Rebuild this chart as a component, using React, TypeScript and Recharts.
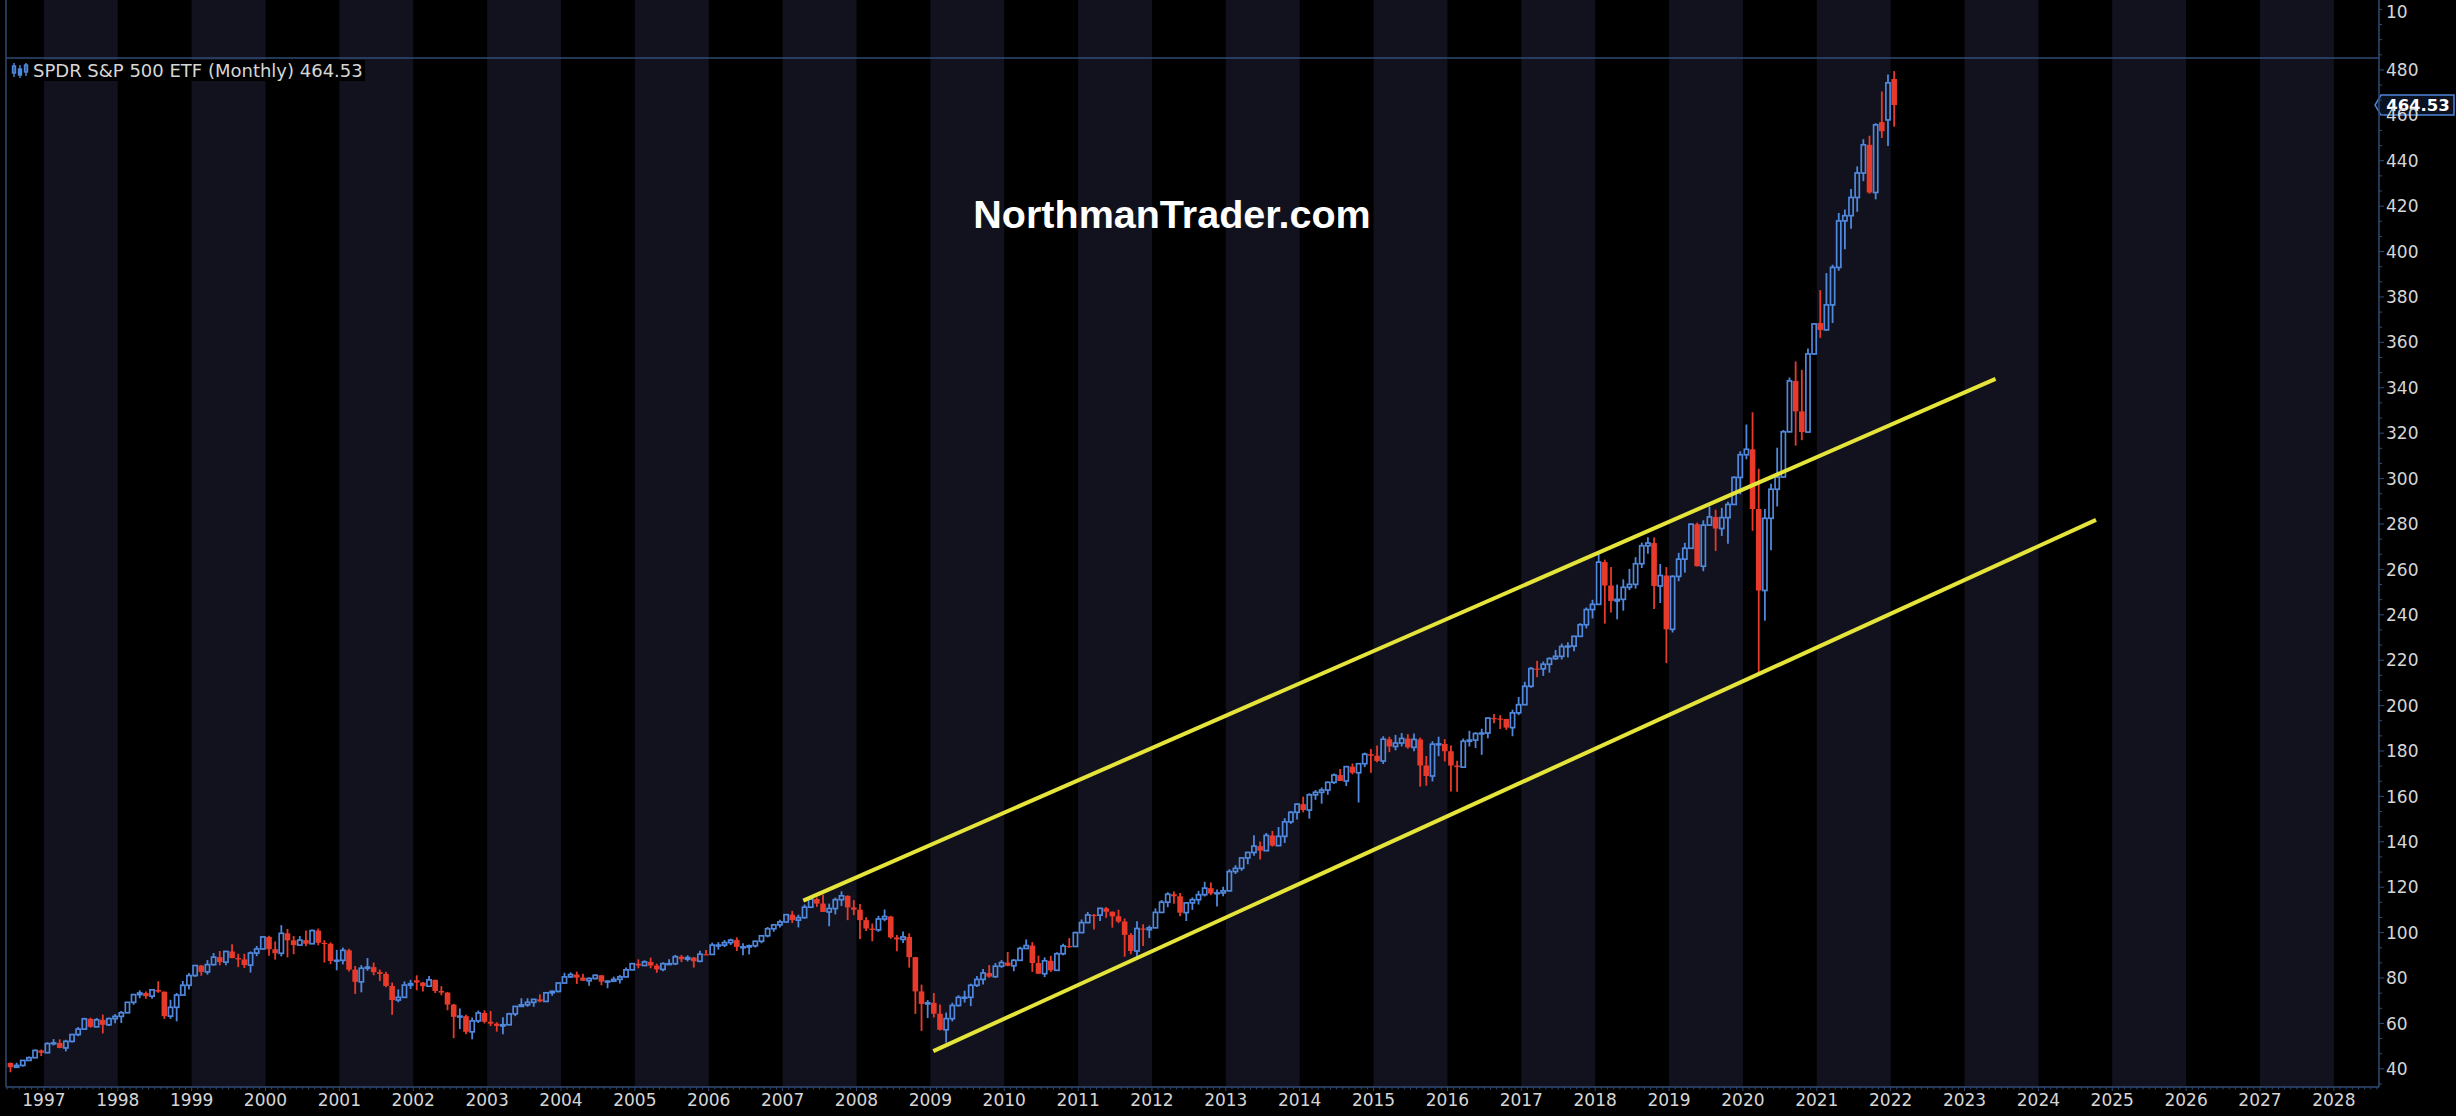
import React from 'react';
import { ComposedChart, Bar, XAxis, YAxis, ReferenceArea, ReferenceLine } from 'recharts';

// ---- Data (monthly SPY, dividend-adjusted) ----
const firstYear = 1996;
const firstMonth = 7; // July 1996

const opens = [
  /*1996*/ 42.6, 40.7, 41.5, 43.7, 44.9, 48.1,
  /*1997*/ 47.1, 51.1, 51.4, 49.2, 52.1, 55.1, 57.5, 62.0, 58.5, 61.6, 59.4, 62.1,
  /*1998*/ 63.1, 64.7, 69.3, 72.7, 73.4, 72.0, 74.8, 74.0, 63.2, 67.1, 72.5, 76.8,
  /*1999*/ 81.1, 85.5, 82.7, 85.9, 89.2, 87.0, 91.7, 88.8, 88.2, 85.7, 91.0, 92.8,
  /*2000*/ 98.1, 92.7, 90.9, 99.7, 96.6, 94.5, 96.7, 95.1, 100.9, 95.5, 95.1, 87.5,
  /*2001*/ 87.8, 92.2, 83.7, 78.3, 84.3, 84.8, 82.6, 81.8, 76.5, 70.3, 71.5, 76.9,
  /*2002*/ 79.0, 78.0, 76.4, 79.2, 74.3, 73.6, 68.3, 62.9, 63.2, 56.3, 61.1, 64.6,
  /*2003*/ 60.7, 59.9, 58.9, 59.4, 64.2, 67.5, 68.2, 69.3, 70.6, 69.7, 73.5, 74.1,
  /*2004*/ 77.8, 80.5, 81.5, 80.2, 78.8, 79.8, 81.2, 78.4, 78.6, 79.4, 80.5, 83.6,
  /*2005*/ 86.3, 85.5, 87.1, 85.5, 83.8, 86.3, 86.3, 89.4, 88.3, 89.0, 87.4, 90.5,
  /*2006*/ 90.4, 94.5, 94.5, 95.6, 96.7, 93.7, 93.7, 94.2, 96.2, 98.6, 101.7, 103.4,
  /*2007*/ 104.7, 107.9, 105.5, 106.6, 111.2, 114.8, 112.8, 109.1, 110.6, 114.5, 116.2, 111.1,
  /*2008*/ 110.1, 105.5, 101.8, 101.2, 106.0, 107.1, 97.9, 97.0, 98.1, 89.2, 74.1, 68.6,
  /*2009*/ 69.1, 64.3, 57.2, 62.1, 67.9, 71.5, 71.5, 76.8, 79.4, 82.2, 80.6, 85.2,
  /*2010*/ 86.8, 85.4, 87.8, 93.0, 94.3, 86.6, 81.9, 87.6, 83.4, 90.7, 94.1, 93.9,
  /*2011*/ 100.0, 104.4, 107.8, 107.7, 110.7, 109.2, 107.2, 104.9, 99.0, 91.9, 101.8, 101.3,
  /*2012*/ 102.1, 108.9, 113.4, 116.9, 116.0, 108.8, 113.1, 114.5, 116.7, 119.6, 117.2, 117.5,
  /*2013*/ 118.4, 126.9, 128.3, 132.9, 135.3, 138.1, 136.1, 142.8, 138.3, 142.4, 148.8, 153.0,
  /*2014*/ 156.6, 154.0, 160.7, 161.8, 162.8, 166.2, 169.4, 166.8, 173.1, 170.4, 174.4, 178.6,
  /*2015*/ 177.9, 175.6, 185.2, 182.0, 183.5, 185.5, 181.6, 185.1, 173.6, 169.0, 183.0, 183.1,
  /*2016*/ 179.9, 173.6, 172.9, 184.3, 184.8, 187.7, 187.9, 194.5, 194.3, 194.1, 190.3, 196.8,
  /*2017*/ 200.4, 208.5, 216.3, 216.2, 218.2, 220.7, 221.7, 226.0, 226.2, 230.5, 235.6, 242.3,
  /*2018*/ 244.6, 263.2, 252.9, 246.1, 246.8, 252.1, 253.4, 262.5, 270.4, 271.6, 252.7, 257.3,
  /*2019*/ 233.6, 256.9, 264.5, 269.3, 279.9, 261.4, 279.5, 283.1, 278.0, 282.8, 288.6, 300.5,
  /*2020*/ 310.5, 312.9, 286.6, 250.7, 282.5, 295.3, 300.7, 320.6, 343.0, 329.6, 320.5, 354.9,
  /*2021*/ 368.5, 365.5, 376.5, 393.0, 413.5, 415.8, 423.8, 434.6, 447.0, 426.0, 457.0, 458.0,
  /*2022*/ 476.0,
];
const highs = [
  /*1996*/ 42.8, 42.7, 43.9, 45.4, 48.5, 48.5,
  /*1997*/ 51.7, 53.1, 53.0, 52.8, 55.4, 58.4, 62.5, 62.5, 62.4, 63.9, 62.6, 64.1,
  /*1998*/ 65.5, 69.3, 73.0, 74.6, 74.1, 75.1, 78.6, 74.0, 70.4, 73.4, 78.7, 82.2,
  /*1999*/ 85.7, 85.8, 87.9, 91.0, 91.9, 91.9, 94.9, 90.7, 90.7, 91.7, 94.1, 98.4,
  /*2000*/ 98.6, 96.1, 103.3, 101.6, 98.5, 98.5, 100.9, 101.4, 101.8, 96.7, 95.7, 92.4,
  /*2001*/ 93.4, 92.9, 85.3, 85.7, 88.8, 86.8, 83.7, 82.8, 78.0, 75.0, 78.5, 79.2,
  /*2002*/ 81.2, 78.2, 80.9, 79.3, 76.4, 73.9, 68.6, 66.6, 63.8, 62.6, 65.7, 65.8,
  /*2003*/ 65.5, 60.5, 62.7, 64.7, 67.6, 71.1, 71.1, 70.8, 72.8, 73.8, 74.5, 77.9,
  /*2004*/ 82.3, 82.5, 82.8, 81.9, 80.3, 81.6, 81.3, 79.0, 80.6, 81.3, 84.6, 86.7,
  /*2005*/ 88.2, 87.8, 89.0, 86.3, 86.9, 88.3, 90.2, 90.2, 90.0, 89.3, 92.0, 92.4,
  /*2006*/ 95.6, 95.8, 96.7, 97.3, 97.9, 95.3, 94.7, 96.4, 98.9, 102.5, 103.9, 105.7,
  /*2007*/ 108.1, 109.6, 107.9, 112.4, 115.2, 115.5, 116.7, 112.8, 115.4, 118.2, 116.4, 114.3,
  /*2008*/ 112.6, 106.8, 104.0, 107.4, 110.2, 107.4, 98.9, 100.5, 99.7, 89.3, 77.1, 70.3,
  /*2009*/ 73.4, 68.3, 64.8, 69.1, 72.4, 74.4, 77.5, 80.9, 84.0, 85.7, 86.6, 87.9,
  /*2010*/ 91.5, 88.4, 93.8, 97.0, 95.8, 89.9, 89.1, 89.8, 91.3, 95.1, 97.6, 100.4,
  /*2011*/ 105.8, 109.1, 108.2, 110.8, 111.3, 109.3, 110.1, 106.2, 99.8, 105.0, 103.7, 103.1,
  /*2012*/ 110.7, 114.4, 117.8, 118.1, 117.5, 113.2, 115.5, 118.4, 122.4, 122.1, 119.0, 120.2,
  /*2013*/ 127.9, 129.7, 133.0, 135.6, 142.9, 140.1, 143.9, 144.8, 146.5, 150.4, 153.6, 156.9,
  /*2014*/ 159.9, 161.4, 162.8, 163.9, 166.5, 170.1, 172.1, 173.2, 174.5, 174.6, 179.3, 180.9,
  /*2015*/ 182.4, 186.5, 186.3, 187.1, 187.9, 187.4, 187.7, 185.9, 177.8, 184.3, 186.3, 185.2,
  /*2016*/ 182.4, 175.7, 185.5, 188.9, 188.3, 189.8, 194.9, 196.3, 195.8, 194.2, 198.2, 203.8,
  /*2017*/ 210.5, 217.0, 219.7, 219.4, 221.3, 224.5, 227.3, 227.9, 230.8, 236.3, 243.2, 246.6,
  /*2018*/ 267.8, 264.3, 261.1, 253.3, 255.6, 260.2, 265.4, 271.8, 274.1, 274.0, 262.4, 261.0,
  /*2019*/ 257.4, 267.3, 271.7, 280.2, 280.6, 281.6, 287.7, 286.3, 287.1, 289.8, 301.0, 312.0,
  /*2020*/ 323.8, 329.2, 304.3, 286.6, 297.7, 313.6, 321.4, 344.5, 351.6, 347.9, 357.3, 368.5,
  /*2021*/ 383.0, 390.5, 394.2, 417.0, 418.5, 427.5, 437.5, 449.5, 451.0, 456.5, 470.5, 478.0,
  /*2022*/ 479.5,
];
const lows = [
  /*1996*/ 38.5, 40.7, 41.0, 43.6, 44.8, 45.6,
  /*1997*/ 46.9, 50.3, 49.1, 47.7, 51.6, 54.4, 57.5, 58.1, 58.4, 55.6, 58.9, 60.1,
  /*1998*/ 60.2, 64.6, 68.2, 71.1, 70.9, 70.9, 73.5, 62.0, 62.0, 60.9, 72.5, 75.0,
  /*1999*/ 80.5, 81.0, 81.5, 85.5, 85.6, 85.6, 88.7, 84.8, 84.4, 82.4, 89.6, 92.7,
  /*2000*/ 89.8, 88.1, 89.5, 89.1, 90.5, 94.5, 94.0, 95.1, 94.4, 86.8, 86.1, 83.4,
  /*2001*/ 86.0, 82.9, 73.0, 73.7, 83.2, 81.2, 78.7, 75.9, 63.8, 69.3, 71.2, 75.2,
  /*2002*/ 74.6, 74.1, 76.2, 73.4, 72.4, 65.8, 53.5, 57.5, 55.2, 53.0, 60.2, 60.0,
  /*2003*/ 58.8, 56.4, 55.2, 59.3, 63.2, 67.3, 67.3, 67.3, 69.3, 69.6, 72.2, 73.7,
  /*2004*/ 77.6, 80.1, 77.4, 78.8, 76.6, 79.3, 76.8, 75.5, 78.4, 77.6, 80.3, 83.5,
  /*2005*/ 84.3, 85.4, 84.3, 82.3, 83.0, 86.0, 85.7, 87.0, 87.3, 84.6, 87.0, 90.3,
  /*2006*/ 90.2, 92.5, 93.6, 94.5, 91.9, 90.0, 90.4, 93.4, 95.3, 97.9, 100.4, 102.3,
  /*2007*/ 104.5, 104.2, 102.3, 106.2, 110.8, 111.3, 109.1, 102.8, 108.0, 111.7, 105.5, 107.7,
  /*2008*/ 97.2, 100.7, 96.2, 100.4, 105.0, 97.3, 91.8, 95.4, 84.6, 64.2, 56.7, 62.4,
  /*2009*/ 62.6, 56.9, 51.5, 60.9, 67.4, 69.2, 67.6, 76.1, 77.2, 80.1, 80.1, 84.5,
  /*2010*/ 85.2, 83.0, 87.6, 92.8, 82.7, 81.8, 80.4, 82.7, 83.3, 90.0, 93.3, 93.8,
  /*2011*/ 99.8, 104.2, 101.4, 105.1, 106.5, 102.2, 104.2, 89.4, 90.5, 88.9, 94.1, 97.6,
  /*2012*/ 102.0, 108.8, 111.2, 112.7, 107.2, 105.1, 110.0, 112.4, 115.9, 116.5, 111.5, 116.0,
  /*2013*/ 118.2, 125.8, 127.2, 130.1, 133.9, 132.2, 135.9, 137.9, 138.2, 139.5, 147.9, 149.8,
  /*2014*/ 153.0, 150.2, 158.5, 156.8, 160.7, 165.5, 166.8, 164.6, 169.7, 157.3, 172.9, 170.4,
  /*2015*/ 175.0, 174.3, 179.5, 180.3, 182.0, 181.0, 179.9, 164.3, 164.7, 166.6, 177.7, 175.4,
  /*2016*/ 162.2, 162.0, 172.7, 182.0, 181.3, 178.3, 185.6, 192.2, 189.7, 189.3, 186.5, 195.8,
  /*2017*/ 200.2, 207.9, 212.5, 213.1, 214.5, 220.1, 220.3, 221.2, 223.9, 230.4, 234.0, 238.4,
  /*2018*/ 244.4, 236.1, 241.0, 238.0, 241.8, 250.9, 251.5, 260.6, 266.9, 242.6, 245.2, 218.7,
  /*2019*/ 232.2, 254.8, 258.6, 269.1, 261.3, 259.2, 279.3, 268.1, 274.7, 271.3, 288.4, 293.0,
  /*2020*/ 308.5, 277.0, 214.0, 237.4, 268.4, 287.7, 300.5, 320.3, 314.5, 316.9, 320.3, 354.5,
  /*2021*/ 362.0, 365.2, 368.5, 391.5, 401.0, 410.0, 417.5, 431.0, 425.5, 423.0, 450.0, 446.5,
  /*2022*/ 455.0,
];
const closes = [
  /*1996*/ 40.7, 41.5, 43.7, 44.9, 48.1, 47.1,
  /*1997*/ 51.1, 51.4, 49.2, 52.1, 55.1, 57.5, 62.0, 58.5, 61.6, 59.4, 62.1, 63.1,
  /*1998*/ 64.7, 69.3, 72.7, 73.4, 72.0, 74.8, 74.0, 63.2, 67.1, 72.5, 76.8, 81.1,
  /*1999*/ 85.5, 82.7, 85.9, 89.2, 87.0, 91.7, 88.8, 88.2, 85.7, 91.0, 92.8, 98.1,
  /*2000*/ 92.7, 90.9, 99.7, 96.6, 94.5, 96.7, 95.1, 100.9, 95.5, 95.1, 87.5, 87.8,
  /*2001*/ 92.2, 83.7, 78.3, 84.3, 84.8, 82.6, 81.8, 76.5, 70.3, 71.5, 76.9, 77.5,
  /*2002*/ 78.0, 76.4, 79.2, 74.3, 73.6, 68.3, 62.9, 63.2, 56.3, 61.1, 64.6, 60.7,
  /*2003*/ 59.9, 58.9, 59.4, 64.2, 67.5, 68.2, 69.3, 70.6, 69.7, 73.5, 74.1, 77.8,
  /*2004*/ 80.5, 81.5, 80.2, 78.8, 79.8, 81.2, 78.4, 78.6, 79.4, 80.5, 83.6, 86.3,
  /*2005*/ 85.5, 87.1, 85.5, 83.8, 86.3, 86.3, 89.4, 88.3, 89.0, 87.4, 90.5, 90.4,
  /*2006*/ 94.5, 94.5, 95.6, 96.7, 93.7, 93.7, 94.2, 96.2, 98.6, 101.7, 103.4, 104.7,
  /*2007*/ 107.9, 105.5, 106.6, 111.2, 114.8, 112.8, 109.1, 110.6, 114.5, 116.2, 111.1, 110.1,
  /*2008*/ 105.5, 101.8, 101.2, 106.0, 107.1, 97.9, 97.0, 98.1, 89.2, 74.1, 68.6, 69.1,
  /*2009*/ 64.3, 57.2, 62.1, 67.9, 71.5, 71.5, 76.8, 79.4, 82.2, 80.6, 85.2, 86.8,
  /*2010*/ 85.4, 87.8, 93.0, 94.3, 86.6, 81.9, 87.6, 83.4, 90.7, 94.1, 93.9, 100.0,
  /*2011*/ 104.4, 107.8, 107.7, 110.7, 109.2, 107.2, 104.9, 99.0, 91.9, 101.8, 101.3, 102.1,
  /*2012*/ 108.9, 113.4, 116.9, 116.0, 108.8, 113.1, 114.5, 116.7, 119.6, 117.2, 117.5, 118.4,
  /*2013*/ 126.9, 128.3, 132.9, 135.3, 138.1, 136.1, 142.8, 138.3, 142.4, 148.8, 153.0, 156.6,
  /*2014*/ 154.0, 160.7, 161.8, 162.8, 166.2, 169.4, 166.8, 173.1, 170.4, 174.4, 178.6, 177.9,
  /*2015*/ 175.6, 185.2, 182.0, 183.5, 185.5, 181.6, 185.1, 173.6, 169.0, 183.0, 183.1, 179.9,
  /*2016*/ 173.6, 172.9, 184.3, 184.8, 187.7, 187.9, 194.5, 194.3, 194.1, 190.3, 196.8, 200.4,
  /*2017*/ 208.5, 216.3, 216.2, 218.2, 220.7, 221.7, 226.0, 226.2, 230.5, 235.6, 242.3, 244.6,
  /*2018*/ 263.2, 252.9, 246.1, 246.8, 252.1, 253.4, 262.5, 270.4, 271.6, 252.7, 257.3, 233.6,
  /*2019*/ 256.9, 264.5, 269.3, 279.9, 261.4, 279.5, 283.1, 278.0, 282.8, 288.6, 300.5, 310.5,
  /*2020*/ 312.9, 286.6, 250.7, 282.5, 295.3, 300.7, 320.6, 343.0, 329.6, 320.5, 354.9, 368.1,
  /*2021*/ 365.5, 376.5, 393.0, 413.5, 415.8, 423.8, 434.6, 447.0, 426.0, 455.8, 453.0, 474.3,
  /*2022*/ 464.53,
];

const yearTicks = [
  1997, 1998, 1999, 2000, 2001, 2002, 2003, 2004, 2005, 2006, 2007, 2008, 2009, 2010, 2011, 2012,
  2013, 2014, 2015, 2016, 2017, 2018, 2019, 2020, 2021, 2022, 2023, 2024, 2025, 2026, 2027, 2028,
];
const priceTicks = [40, 60, 80, 100, 120, 140, 160, 180, 200, 220, 240, 260, 280, 300, 320, 340, 360, 380, 400, 420, 440, 460, 480];
const shadedYears = [1997, 1999, 2001, 2003, 2005, 2007, 2009, 2011, 2013, 2015, 2017, 2019, 2021, 2023, 2025, 2027];
const upperTrend = [{ x: 2007.28, y: 114.1 }, { x: 2023.42, y: 343.9 }];
const lowerTrend = [{ x: 2009.04, y: 47.8 }, { x: 2024.78, y: 281.8 }];
const lastPrice = 464.53;
const paneDivider = 485.3;
const titleText = 'SPDR S&P 500 ETF (Monthly) 464.53';
const watermark = 'NorthmanTrader.com';
const upperPaneLabel = '10';

const X_DOMAIN: [number, number] = [1996.487, 2028.611];
const Y_DOMAIN: [number, number] = [32, 510.8];

// ---- Styles ----
const BG = '#000000';
const BAND = '#12121e';
const AXIS = '#2f4b74';
const TEXT = '#d6d6d6';
const BLUE = '#4f88dc';
const RED = '#e83a2a';
const YELLOW = '#e4e43a';
const FONT = '"DejaVu Sans", "Liberation Sans", Arial, sans-serif';

const rows = opens.map((o, i) => {
  const m = firstMonth - 1 + i;
  const year = firstYear + Math.floor(m / 12);
  const month = m % 12;
  return {
    t: year + month / 12 + 1 / 24,
    open: o,
    high: highs[i],
    low: lows[i],
    close: closes[i],
    range: [lows[i], highs[i]],
  };
});

// monthly minor ticks on the time axis (year ticks are among them)
const xTicks: number[] = [];
for (let k = 1996 * 12 + 6; k <= 2028 * 12 + 7; k++) xTicks.push(k / 12);
// minor price ticks (major ones are the labelled priceTicks)
const yTicks: number[] = [];
for (let k = 5; k <= 76; k++) yTicks.push((k * 20) / 3);

const TICK_OFF = 4;

const XTick = (p: any) => {
  const { x, y, payload } = p;
  const v = payload.value;
  const yr = Math.round(v);
  const isYear = Math.abs(v - yr) < 1e-6 && yearTicks.includes(yr);
  const ay = y - TICK_OFF;
  return (
    <g>
      <line x1={x} x2={x} y1={ay} y2={ay + (isYear ? 4 : 2.5)} stroke={AXIS} strokeWidth={1} />
      {isYear && (
        <text x={x} y={ay + 19} textAnchor="middle" fill={TEXT} fontSize={17} fontFamily={FONT}>
          {yr}
        </text>
      )}
    </g>
  );
};

const YTick = (p: any) => {
  const { x, y, payload } = p;
  const v = payload.value;
  const r = Math.round(v);
  const isMajor = Math.abs(v - r) < 1e-6 && priceTicks.includes(r);
  const ax = x - TICK_OFF;
  return (
    <g>
      <line x1={ax} x2={ax + (isMajor ? 5 : 3)} y1={y} y2={y} stroke={AXIS} strokeWidth={1} />
      {isMajor && (
        <text x={ax + 7} y={y} dy="0.36em" textAnchor="start" fill={TEXT} fontSize={17} fontFamily={FONT}>
          {r}
        </text>
      )}
    </g>
  );
};

const Candle = (p: any) => {
  const { x, y, width, height, payload } = p;
  if (!payload || height == null) return null;
  const { open, close, high, low } = payload;
  const cx = x + width / 2;
  const ppu = height / (high - low);
  const yOf = (v: number) => y + (high - v) * ppu;
  const yH = yOf(high);
  const yL = yOf(low);
  const yTop = yOf(Math.max(open, close));
  const yBot = yOf(Math.min(open, close));
  const up = close >= open;
  if (up) {
    const h = Math.max(yBot - yTop, 0.8);
    return (
      <g>
        <line x1={cx} x2={cx} y1={yH} y2={yTop} stroke={BLUE} strokeWidth={1.8} />
        <line x1={cx} x2={cx} y1={yTop + h} y2={yL} stroke={BLUE} strokeWidth={1.8} />
        <rect x={cx - 2.1} y={yTop} width={4.2} height={h} fill="none" stroke={BLUE} strokeWidth={1.7} />
      </g>
    );
  }
  return (
    <g>
      <line x1={cx} x2={cx} y1={yH} y2={yL} stroke={RED} strokeWidth={1.8} />
      <rect x={cx - 2.8} y={yTop} width={5.6} height={Math.max(yBot - yTop, 1.2)} fill={RED} />
    </g>
  );
};

const PriceTag = (p: any) => {
  const vb = p.viewBox || {};
  const xr = (vb.x || 0) + (vb.width || 0);
  const yc = vb.y || 0;
  return (
    <g>
      <path
        d={`M${xr - 4},${yc} L${xr + 2},${yc - 10} L${xr + 75},${yc - 10} L${xr + 75},${yc + 10} L${xr + 2},${yc + 10} Z`}
        fill="#0a1222"
        stroke="#4f86d8"
        strokeWidth={1.5}
      />
      <text x={xr + 39} y={yc} dy="0.36em" textAnchor="middle" fill="#ffffff" fontWeight="bold" fontSize={16.5} fontFamily={FONT}>
        {lastPrice.toFixed(2)}
      </text>
    </g>
  );
};

export default function App() {
  return (
    <div style={{ position: 'absolute', left: 0, top: 0, width: 2456, height: 1116, background: BG, overflow: 'hidden' }}>
      <ComposedChart width={2456} height={1116} data={rows} margin={{ top: 0, right: 0, bottom: 0, left: 0 }}>
        <XAxis
          xAxisId="x"
          dataKey="t"
          type="number"
          scale="linear"
          domain={X_DOMAIN}
          allowDataOverflow
          ticks={xTicks}
          interval={0}
          tick={(p: any) => <XTick {...p} />}
          tickLine={false}
          tickSize={TICK_OFF}
          tickMargin={0}
          height={29}
          axisLine={{ stroke: AXIS, strokeWidth: 1.5 }}
        />
        <YAxis
          yAxisId="left"
          orientation="left"
          type="number"
          width={6}
          domain={Y_DOMAIN}
          allowDataOverflow
          tick={false}
          tickLine={false}
          axisLine={{ stroke: AXIS, strokeWidth: 1.5 }}
        />
        <YAxis
          yAxisId="p"
          orientation="right"
          type="number"
          width={77}
          domain={Y_DOMAIN}
          allowDataOverflow
          ticks={yTicks}
          interval={0}
          tick={(p: any) => <YTick {...p} />}
          tickLine={false}
          tickSize={TICK_OFF}
          tickMargin={0}
          axisLine={{ stroke: AXIS, strokeWidth: 1.5 }}
        />
        {shadedYears.map((yr) => (
          <ReferenceArea
            key={yr}
            xAxisId="x"
            yAxisId="p"
            x1={yr}
            x2={yr + 1}
            fill={BAND}
            fillOpacity={1}
            stroke="none"
          />
        ))}
        <ReferenceLine xAxisId="x" yAxisId="p" y={paneDivider} stroke={AXIS} strokeWidth={1.5} />
        <Bar
          xAxisId="x"
          yAxisId="p"
          dataKey="range"
          barSize={5}
          shape={(p: any) => <Candle {...p} />}
          isAnimationActive={false}
        />
        <ReferenceLine xAxisId="x" yAxisId="p" segment={upperTrend} stroke={YELLOW} strokeWidth={4} />
        <ReferenceLine xAxisId="x" yAxisId="p" segment={lowerTrend} stroke={YELLOW} strokeWidth={4} />
        <ReferenceLine xAxisId="x" yAxisId="p" y={lastPrice} stroke="none" label={(p: any) => <PriceTag {...p} />} />
      </ComposedChart>
      <svg
        width={2456}
        height={1116}
        style={{ position: 'absolute', left: 0, top: 0, pointerEvents: 'none' }}
      >
        <rect x={31} y={60} width={334} height={21} fill="#000" />
        <g stroke={BLUE} strokeWidth={1.4} fill="none">
          <line x1={14} x2={14} y1={63} y2={77} />
          <rect x={12.5} y={66} width={3} height={7} />
          <line x1={20} x2={20} y1={65} y2={78} />
          <rect x={18.5} y={69} width={3} height={6} fill={BLUE} />
          <line x1={26} x2={26} y1={63} y2={76} />
          <rect x={24.5} y={65} width={3} height={7} />
        </g>
        <text x={33} y={76.5} fill={TEXT} fontSize={18} fontFamily={FONT}>
          {titleText}
        </text>
        <text x={2386} y={12} dy="0.36em" fill={TEXT} fontSize={17} fontFamily={FONT}>
          {upperPaneLabel}
        </text>
        <text
          x={1172}
          y={228}
          textAnchor="middle"
          fill="#ffffff"
          fontSize={39.5}
          fontWeight="bold"
          fontFamily='"Liberation Sans", Arial, sans-serif'
        >
          {watermark}
        </text>
      </svg>
    </div>
  );
}
